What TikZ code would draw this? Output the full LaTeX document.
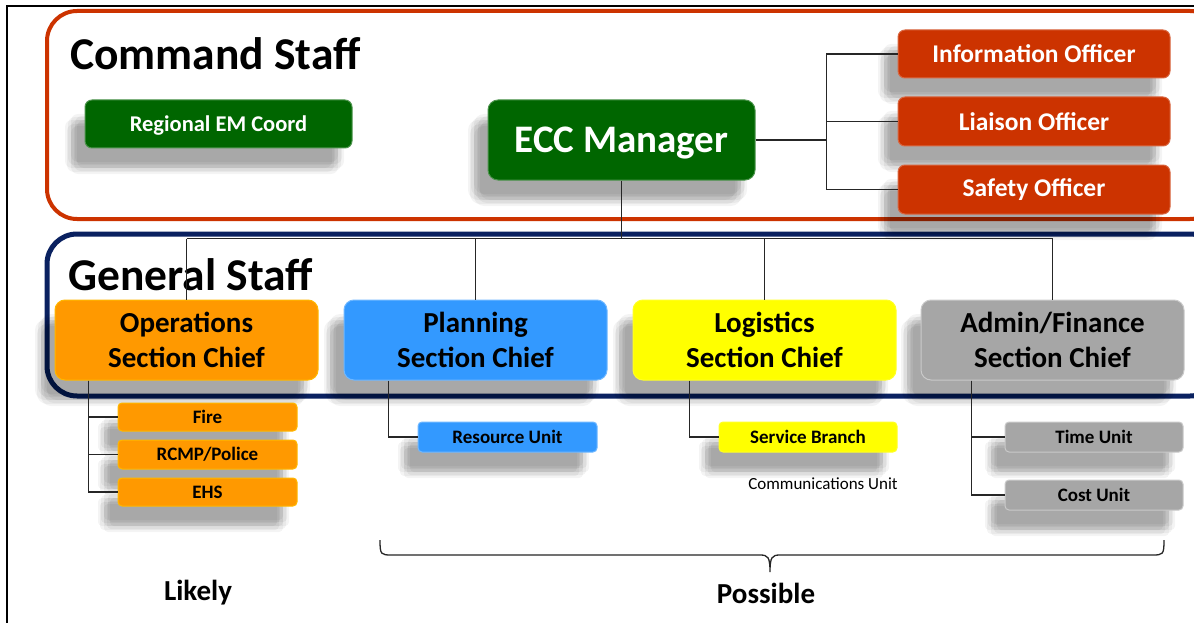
\documentclass[tikz,border=0pt]{standalone}
\usepackage{fontspec}
\setmainfont{Carlito}
\usetikzlibrary{shadows}
\definecolor{cmdred}{HTML}{CC3300}
\definecolor{navy}{HTML}{0A2160}
\definecolor{dgreen}{HTML}{006600}
\definecolor{orng}{HTML}{FF9900}
\definecolor{lblue}{HTML}{3399FF}
\definecolor{yel}{HTML}{FFFF00}
\definecolor{gry}{HTML}{A6A6A6}
\tikzset{
  sl/.style 2 args={drop shadow={shadow xshift=#1pt,shadow yshift=#2pt,opacity=.045,fill=black}},
  shd/.style={sl={-14}{-20},sl={-10}{-16},sl={-18}{-24},sl={-14}{-14},sl={-14}{-26},
    sl={-8}{-20},sl={-20}{-20},sl={-11}{-23},sl={-17}{-17}},
  box/.style={shd,rounded corners=7pt,inner sep=0pt,font=\bfseries,line width=1pt,align=center},
  gbox/.style={box,fill=dgreen,draw=dgreen!70!white,text=white,text depth=0pt},
  rbox/.style={box,fill=cmdred,draw=cmdred!75!white,text=white,minimum width=272pt,font=\fontsize{25.5}{30}\selectfont\bfseries},
  sec/.style={box,rounded corners=10pt,minimum width=263pt,minimum height=80pt,text=black,font=\fontsize{29}{35}\selectfont\bfseries},
  sub/.style={box,rounded corners=4pt,minimum width=178pt,text=black,font=\fontsize{19}{22}\selectfont\bfseries},
  conn/.style={line width=1.4pt,black!85},
  title/.style={font=\fontsize{45.5}{50}\selectfont\bfseries,anchor=base west,inner sep=0pt},
  foot/.style={font=\fontsize{29}{32}\selectfont\bfseries,inner sep=0pt}
}
\begin{document}
\begin{tikzpicture}[x=1pt,y=-1pt]
\useasboundingbox (0,0) rectangle (1194,623);
\fill[white] (0,0) rectangle (1194,623);
% outer frame
\draw[line width=1.5pt] (1194,6) -- (7,6) -- (7,623);
% group frames
\draw[cmdred,line width=4pt,rounded corners=30pt] (47,11) rectangle (1220,219);
\draw[navy,line width=5pt,rounded corners=30pt] (47,234) rectangle (1220,396);
\node[title] (cmdt) at (70,70) {Command Staff};
% command staff nodes
\node[gbox,minimum width=267pt,minimum height=48pt,font=\fontsize{22.5}{26}\selectfont\bfseries] (reg) at (218.5,124) {Regional EM Coord};
\node[gbox,rounded corners=10pt,minimum width=267pt,minimum height=80pt,font=\fontsize{39}{44}\selectfont\bfseries] (ecc) at (621.5,140) {ECC Manager};
\node[rbox,minimum height=48pt] (info) at (1034,54) {Information Officer};
\node[rbox,minimum height=49pt] (liai) at (1034,121.5) {Liaison Officer};
\node[rbox,minimum height=49pt] (safe) at (1034,189.5) {Safety Officer};
% sections
\node[sec,fill=orng,draw=orng!70!yellow] (ops) at (186.5,340) {Operations\\Section Chief};
\node[sec,fill=lblue,draw=lblue!70!white] (plan) at (475.5,340) {Planning\\Section Chief};
\node[sec,fill=yel,draw=yel!85!white] (logi) at (764.5,340) {Logistics\\Section Chief};
\node[sec,fill=gry,draw=gry!60!white] (adm) at (1052.5,340) {Admin/Finance\\Section Chief};
\node[title] (gent) at (68,290) {General Staff};
% sub units
\node[sub,fill=orng,draw=orng!70!yellow,minimum width=179pt,minimum height=28pt] (fire) at (207.5,417) {Fire};
\node[sub,fill=orng,draw=orng!70!yellow,minimum width=179pt,minimum height=29pt] (rcmp) at (207.5,454.5) {RCMP/Police};
\node[sub,fill=orng,draw=orng!70!yellow,minimum width=179pt,minimum height=28pt] (ehs) at (207.5,492) {EHS};
\node[sub,fill=lblue,draw=lblue!70!white,minimum width=179pt,minimum height=30pt] (res) at (507.5,437) {Resource Unit};
\node[sub,fill=yel,draw=yel!85!white,minimum height=30pt] (svc) at (808,437) {Service Branch};
\node[sub,fill=gry,draw=gry!60!white,minimum height=30pt] (time) at (1094,437) {Time Unit};
\node[sub,fill=gry,draw=gry!60!white,minimum height=30pt] (cost) at (1094,495) {Cost Unit};
\node[font=\fontsize{17}{20}\selectfont,inner sep=0pt] (comm) at (823,484) {Communications Unit};
% command connectors
\draw[conn] (ecc.east) -- ++(71,0) coordinate (cj);
\draw[conn] (cj) |- (info.west);
\draw[conn] (cj) |- (liai.west);
\draw[conn] (cj) |- (safe.west);
% general connectors
\draw[conn] (ecc.south) -- ++(0,58) coordinate (gj);
\draw[conn] (ops.north |- gj) -- (adm.north |- gj);
\draw[conn] (ops.north |- gj) -- (ops.north);
\draw[conn] (plan.north |- gj) -- (plan.north);
\draw[conn] (logi.north |- gj) -- (logi.north);
\draw[conn] (adm.north |- gj) -- (adm.north);
% sub connectors
\coordinate (opl) at ([xshift=34pt]ops.south west);
\draw[conn] (opl) |- (fire.west);
\draw[conn] (opl) |- (rcmp.west);
\draw[conn] (opl) |- (ehs.west);
\coordinate (pll) at ([xshift=45pt]plan.south west);
\draw[conn] (pll) |- (res.west);
\coordinate (lgl) at ([xshift=57pt]logi.south west);
\draw[conn] (lgl) |- (svc.west);
\coordinate (adl) at ([xshift=51pt]adm.south west);
\draw[conn] (adl) |- (time.west);
\draw[conn] (adl) |- (cost.west);
% brace
\draw[line width=1.3pt,black!85] (380,540) .. controls (380,555) and (381,555) .. (392,555) -- (760,555) .. controls (768,555) and (770,557) .. (770,572)
  (770,572) .. controls (770,557) and (772,555) .. (780,555) -- (1152,555) .. controls (1163,555) and (1164,555) .. (1164,540);
\node[foot] (likely) at (198,593) {Likely};
\node[foot] (poss) at (766,593) {Possible};
\end{tikzpicture}
\end{document}
